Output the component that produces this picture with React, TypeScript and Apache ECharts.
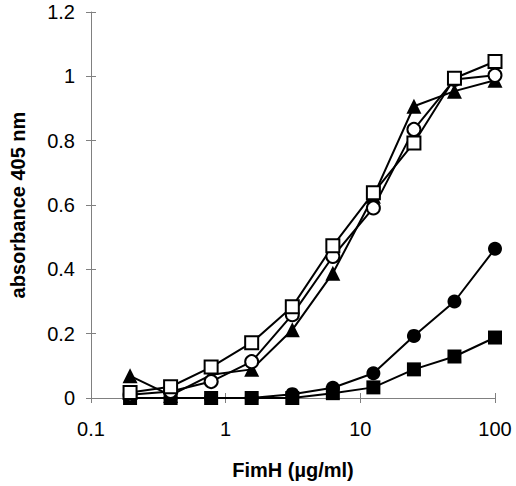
import React, { useEffect, useRef } from "react";
import * as echarts from "echarts";

const concentrations = [0.195, 0.39, 0.78, 1.56, 3.125, 6.25, 12.5, 25, 50, 100];
const openSquare = [0.017, 0.035, 0.096, 0.172, 0.284, 0.473, 0.638, 0.793, 0.994, 1.046];
const openCircle = [0.01, 0.02, 0.051, 0.113, 0.259, 0.44, 0.591, 0.835, 0.99, 1.003];
const filledTriangle = [0.069, 0.008, 0.072, 0.089, 0.212, 0.388, 0.627, 0.907, 0.954, 0.988];
const filledCircle = [0, 0, 0, 0, 0.012, 0.032, 0.077, 0.193, 0.3, 0.464];
const filledSquare = [0, 0, 0, 0, 0, 0.015, 0.033, 0.089, 0.129, 0.188];

const xTitle = "FimH (µg/ml)";
const yTitle = "absorbance 405 nm";

const zip = (ys: number[]) => concentrations.map((x, i) => [x, ys[i]]);

export default function App() {
  const ref = useRef<HTMLDivElement>(null);
  useEffect(() => {
    if (!ref.current) return;
    const chart = echarts.init(ref.current, undefined, { renderer: "svg" });
    const font = "'Liberation Sans', Arial, sans-serif";
    const axisColor = "#808080";
    const mk = (name: string, ys: number[], symbol: string, size: number, filled: boolean) => ({
      name,
      type: "line",
      data: zip(ys),
      symbol,
      symbolSize: size,
      showAllSymbol: true,
      lineStyle: { color: "#000", width: 2 },
      itemStyle: {
        color: filled ? "#000" : "#fff",
        borderColor: "#000",
        borderWidth: filled ? 0 : 2,
      },
      xAxisIndex: 0,
      yAxisIndex: 0,
      z: 3,
    });
    chart.setOption({
      animation: false,
      backgroundColor: "#fff",
      grid: { left: 87, right: 21, top: 12, bottom: 88, containLabel: false },
      xAxis: [
        {
          type: "log",
          logBase: 10,
          min: 0.1,
          max: 100,
          position: "bottom",
          name: xTitle,
          nameLocation: "middle",
          nameGap: 62,
          nameTextStyle: { fontFamily: font, fontSize: 20, fontWeight: "bold", color: "#000" },
          axisLine: { show: true, onZero: false, lineStyle: { color: axisColor, width: 1 } },
          axisTick: { show: true, inside: false, length: 5, lineStyle: { color: axisColor } },
          axisLabel: {
            fontFamily: font,
            fontSize: 20,
            color: "#000",
            margin: 21,
            formatter: (v: number) => String(v),
          },
          splitLine: { show: false },
          minorTick: { show: false },
        },
        {
          type: "log",
          logBase: 10,
          min: 0.1,
          max: 100,
          position: "bottom",
          axisLine: { show: false, onZero: false },
          axisTick: { show: true, inside: true, length: 5, lineStyle: { color: axisColor } },
          axisLabel: { show: false },
          splitLine: { show: false },
        },
      ],
      yAxis: [
        {
          type: "value",
          min: 0,
          max: 1.2,
          interval: 0.2,
          position: "left",
          name: yTitle,
          nameLocation: "middle",
          nameGap: 63,
          nameTextStyle: { fontFamily: font, fontSize: 20, fontWeight: "bold", color: "#000" },
          axisLine: { show: true, lineStyle: { color: axisColor, width: 1 } },
          axisTick: { show: true, inside: false, length: 5, lineStyle: { color: axisColor } },
          axisLabel: { fontFamily: font, fontSize: 20, color: "#000", margin: 16 },
          splitLine: { show: false },
        },
        {
          type: "value",
          min: 0,
          max: 1.2,
          interval: 0.2,
          position: "left",
          axisLine: { show: false },
          axisTick: { show: true, inside: true, length: 5, lineStyle: { color: axisColor } },
          axisLabel: { show: false },
          splitLine: { show: false },
        },
      ],
      series: [
        mk("filled square", filledSquare, "rect", 14, true),
        mk("filled circle", filledCircle, "circle", 14, true),
        mk("filled triangle", filledTriangle, "triangle", 15, true),
        mk("open circle", openCircle, "circle", 13, false),
        mk("open square", openSquare, "rect", 13, false),
      ],
    });
    return () => chart.dispose();
  }, []);
  return <div ref={ref} style={{ width: 516, height: 486, position: "absolute", left: 0, top: 0 }} />;
}
